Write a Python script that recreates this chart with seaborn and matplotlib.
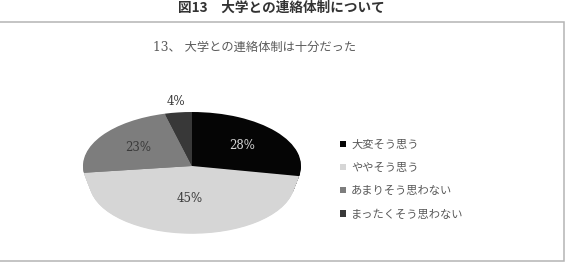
import numpy as np
import matplotlib
matplotlib.use("Agg")
import matplotlib.pyplot as plt
import seaborn as sns
from matplotlib.patches import Rectangle

# data
categories = ["大変そう思う", "ややそう思う", "あまりそう思わない", "まったくそう思わない"]
values = [28, 45, 23, 4]
fig_title = "図13　大学との連絡体制について"
chart_title = "13、 大学との連絡体制は十分だった"

sns.set_theme(style="white")
plt.rcParams['font.family'] = ['Noto Sans CJK JP', 'DejaVu Sans']

top_colors = ["#050505", "#d6d6d6", "#7d7d7d", "#383838"]
side_colors = ["#050505", "#d6d6d6", "#727272", "#303030"]

W, H = 569, 278
fig = plt.figure(figsize=(W / 100, H / 100), dpi=100)
fig.patch.set_facecolor("white")

# outer frame (left edge runs off the image)
fig.patches.append(Rectangle((-5 / W, 1 - 261 / H), (564 + 5) / W, (261 - 22) / H,
                             transform=fig.transFigure, fill=False,
                             ec="#b4b4b4", lw=1.1))

fig.text(281 / W, 1 - 8 / H, fig_title, ha="center", va="center",
         fontsize=9.8, fontweight="bold", color="#333333")
fig.text(153 / W, 1 - 47 / H, chart_title, ha="left", va="center",
         fontsize=8.8, color="#5a5a5a", family=['DejaVu Serif', 'Noto Sans CJK JP'])

# pie axes: squashed ellipse, lower layers a bit narrower for a soft 3D look
depth = 0.315
ax = fig.add_axes([83 / W, 1 - 237 / H, 218 / W, 125 / H])
for off in np.linspace(depth, 0.0, 24)[:-1]:
    ax.pie(values, colors=side_colors, startangle=90, counterclock=False,
           center=(0, -off), radius=1 - 0.06 * off / depth,
           wedgeprops=dict(linewidth=0))
wedges, _ = ax.pie(values, colors=top_colors, startangle=90, counterclock=False,
                   center=(0, 0), radius=1, wedgeprops=dict(linewidth=0))
ax.set_aspect("auto")
ax.set_xlim(-1, 1)
ax.set_ylim(-1 - depth, 1)
ax.axis("off")

# percentage labels
start = 90.0
total = sum(values)
for i, v in enumerate(values):
    mid = np.deg2rad(start - v / total * 360 / 2)
    start -= v / total * 360
    r = 1.2 if v < 10 else 0.6
    col = "#d8d8d8" if i == 0 else "#3a3a3a"
    ax.text(r * np.cos(mid), r * np.sin(mid), f"{v}%", ha="center", va="center",
            fontsize=8.5, color=col, family="DejaVu Serif")

fig.legend(wedges, categories, loc="upper left",
           bbox_to_anchor=(340 / W, 1 - 140 / H), bbox_transform=fig.transFigure,
           frameon=False, fontsize=8.1, handlelength=0.5, handleheight=0.5,
           handletextpad=0.5, labelspacing=1.15, labelcolor="#595959",
           borderaxespad=0, borderpad=0)

fig.savefig("out.png", dpi=100)
